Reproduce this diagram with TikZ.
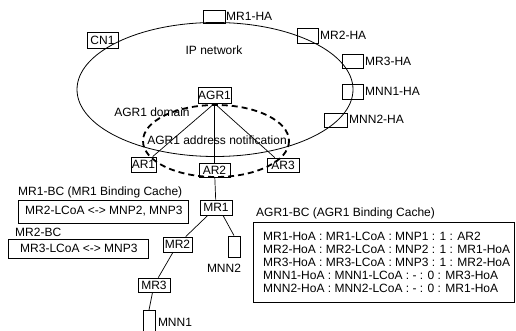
\documentclass[tikz,border=0pt]{standalone}
\usepackage{fontspec}
\setmainfont{Liberation Sans}
\begin{document}
\begin{tikzpicture}[x=1pt,y=-1pt,
  every node/.style={font=\fontsize{12}{13}\selectfont},
  bx/.style={draw, line width=0.8pt, rectangle, inner sep=0pt},
  lbl/.style={inner sep=0pt},
  ln/.style={line width=0.7pt}]
\useasboundingbox (0,0) rectangle (516,331);
% big ellipse
\draw[line width=0.8pt] (215,89.5) ellipse [x radius=138, y radius=67];
\node[lbl] (ipn) at (214,50) {IP network};
% home agents
\node[bx, minimum width=31pt, minimum height=16pt] (cn1) at (102.5,40) {CN1};
\node[bx, minimum width=22pt, minimum height=13pt] (mr1ha) at (214,16.5) {};
\node[lbl, anchor=west] (mr1hal) at (226,16.5) {MR1-HA};
\node[bx, minimum width=21pt, minimum height=15pt] (mr2ha) at (307.5,35.5) {};
\node[lbl, anchor=west] (mr2hal) at (320,35) {MR2-HA};
\node[bx, minimum width=21pt, minimum height=14pt] (mr3ha) at (352.5,61) {};
\node[lbl, anchor=west] (mr3hal) at (365,61) {MR3-HA};
\node[bx, minimum width=21pt, minimum height=15pt] (mnn1ha) at (352.5,91.5) {};
\node[lbl, anchor=west] (mnn1hal) at (365,91) {MNN1-HA};
\node[bx, minimum width=23pt, minimum height=14pt] (mnn2ha) at (335.5,120) {};
\node[lbl, anchor=west] (mnn2hal) at (349,119) {MNN2-HA};
% AGR domain
\draw[line width=1.8pt, dash pattern=on 6pt off 4pt] (216,141) ellipse [x radius=73, y radius=36];
\node[bx, minimum width=33pt, minimum height=16pt] (agr1) at (214.5,95) {AGR1};
\node[bx, minimum width=25pt, minimum height=15pt] (ar1) at (143.5,164.5) {AR1};
\node[bx, minimum width=31pt, minimum height=14pt] (ar2) at (214.5,170) {AR2};
\node[bx, minimum width=32pt, minimum height=14pt] (ar3) at (283,165) {AR3};
\node[lbl] (dom) at (152,112) {AGR1 domain};
\node[lbl] (notif) at (217,140) {AGR1 address notification};
\draw[ln] (agr1.south) -- (ar1);
\draw[ln] (agr1.south) -- (ar2);
\draw[ln] (agr1.south) -- (ar3);
% mobile network
\node[bx, minimum width=32pt, minimum height=15pt] (mr1) at (216,207.5) {MR1};
\node[bx, minimum width=29pt, minimum height=15pt] (mr2) at (177.5,244.5) {MR2};
\node[bx, minimum width=12pt, minimum height=21pt] (mnn2) at (234,246.5) {};
\node[lbl] (mnn2l) at (224,268) {MNN2};
\node[bx, minimum width=32pt, minimum height=14pt] (mr3) at (154,285) {MR3};
\node[bx, minimum width=12pt, minimum height=24pt, anchor=north] (mnn1) at (149,310) {};
\node[lbl] (mnn1l) at (175,322) {MNN1};
\draw[ln] (mr1) -- (ar2);
\draw[ln] (mr1) -- (mr2);
\draw[ln] ([xshift=7pt]mr1.south) -- (mnn2.north);
\draw[ln] (mr2) -- (mr3);
\draw[ln] (mr3) -- (mnn1.north);
% binding caches
\node[lbl, anchor=west] (mr1bct) at (18,192) {MR1-BC (MR1 Binding Cache)};
\node[bx, minimum width=170pt, minimum height=23pt, anchor=north west] (mr1bc) at (18,200) {};
\node[lbl, anchor=west] (mr1bcx) at (25,211.5) {MR2-LCoA <-> MNP2, MNP3};
\node[lbl, anchor=west] (mr2bct) at (15,232) {MR2-BC};
\node[bx, minimum width=140pt, minimum height=19pt, anchor=north west] (mr2bc) at (8,239) {};
\node[lbl, anchor=west] (mr2bcx) at (20,248.5) {MR3-LCoA <-> MNP3};
\node[lbl, anchor=west] (agrbct) at (256,213) {AGR1-BC (AGR1 Binding Cache)};
\node[bx, minimum width=261pt, minimum height=80pt, anchor=north west] (agrbc) at (253,222) {};
\node[lbl, anchor=north west, align=left] (agrbcx) at (263,232) {MR1-HoA : MR1-LCoA : MNP1 : 1 : AR2\\
MR2-HoA : MR2-LCoA : MNP2 : 1 : MR1-HoA\\
MR3-HoA : MR3-LCoA : MNP3 : 1 : MR2-HoA\\
MNN1-HoA : MNN1-LCoA : - : 0 : MR3-HoA\\
MNN2-HoA : MNN2-LCoA : - : 0 : MR1-HoA};
\end{tikzpicture}
\end{document}
